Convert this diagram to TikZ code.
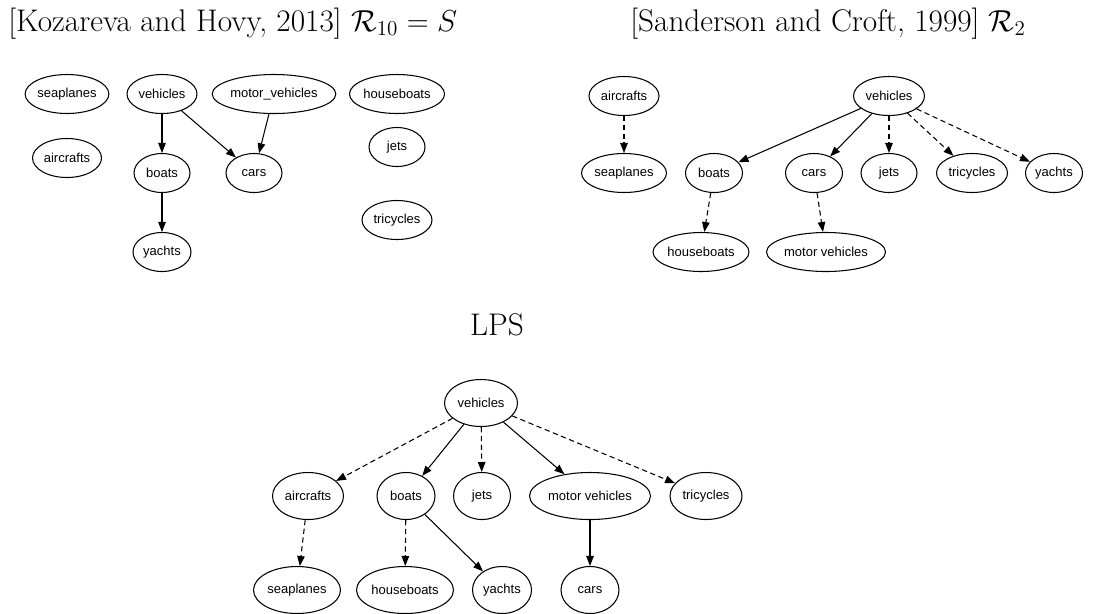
\documentclass[tikz,border=0pt]{standalone}
\usepackage{fontspec}
\newfontfamily\nodefont{Liberation Sans}
\usetikzlibrary{shapes.geometric,arrows.meta}
\newdimen\pxu \pxu=0.02cm
\tikzset{
  el/.style={ellipse,draw,line width=0.6pt,inner sep=0pt,minimum height=39\pxu,minimum width=#1\pxu,font=\nodefont\fontsize{7.4}{8.5}\selectfont},
  elb/.style={el=#1,minimum height=47\pxu},
  ttl/.style={anchor=base west,inner sep=0pt,font=\fontsize{17.8}{21}\selectfont},
  edge/.style={line width=0.6pt,-{Triangle[length=2mm,width=1.5mm]}},
  dedge/.style={edge,dash pattern=on 3pt off 2pt},
}
\begin{document}
\begin{tikzpicture}[x=0.02cm,y=-0.02cm]
\useasboundingbox (0,0) rectangle (1104,613);
% ---------- top left ----------
\node[ttl] (t1) at (8,31) {[Kozareva and Hovy, 2013] $\mathcal{R}_{10}=S$};
\node[el=83] (a1) at (67,94) {seaplanes};
\node[el=70] (a2) at (162,94) {vehicles};
\node[el=118] (a3) at (274,94) {motor\_vehicles};
\node[el=94] (a4) at (397,94) {houseboats};
\node[el=69] (a5) at (67,158) {aircrafts};
\node[el=56] (a6) at (397,147) {jets};
\node[el=56] (a7) at (162,173) {boats};
\node[el=56] (a8) at (254,173) {cars};
\node[el=70] (a9) at (397,220) {tricycles};
\node[el=58] (a10) at (162,252) {yachts};
\draw[edge] (a2) -- (a7);
\draw[edge] (a2) -- (a8);
\draw[edge] (a3) -- (a8);
\draw[edge] (a7) -- (a10);
% ---------- top right ----------
\node[ttl] (t2) at (630,31) {[Sanderson and Croft, 1999] $\mathcal{R}_{2}$};
\node[el=70] (b1) at (624,96) {aircrafts};
\node[el=71] (b2) at (889,96) {vehicles};
\node[el=85] (b3) at (624,173) {seaplanes};
\node[el=57] (b4) at (714,173) {boats};
\node[el=57] (b5) at (814,173) {cars};
\node[el=56] (b6) at (889,173) {jets};
\node[el=71] (b7) at (972,173) {tricycles};
\node[el=57] (b8) at (1054,173) {yachts};
\node[el=96] (b9) at (701,252) {houseboats};
\node[el=119] (b10) at (826,252) {motor vehicles};
\draw[dedge] (b1) -- (b3);
\draw[edge] (b2) -- (b4);
\draw[edge] (b2) -- (b5);
\draw[dedge] (b2) -- (b6);
\draw[dedge] (b2) -- (b7);
\draw[dedge] (b2) -- (b8);
\draw[dedge] (b4) -- (b9);
\draw[dedge] (b5) -- (b10);
% ---------- bottom ----------
\node[ttl,anchor=base] (t3) at (497,335) {LPS};
\node[elb=73] (c1) at (481,403) {vehicles};
\node[elb=71] (c2) at (308,496) {aircrafts};
\node[elb=58] (c3) at (406,496) {boats};
\node[elb=57] (c4) at (482,496) {jets};
\node[elb=121] (c5) at (590,496) {motor vehicles};
\node[elb=72] (c6) at (706,496) {tricycles};
\node[elb=87] (c7) at (297,590) {seaplanes};
\node[elb=97] (c8) at (405,590) {houseboats};
\node[elb=59] (c9) at (502,590) {yachts};
\node[elb=58] (c10) at (590,590) {cars};
\draw[dedge] (c1) -- (c2);
\draw[edge] (c1) -- (c3);
\draw[dedge] (c1) -- (c4);
\draw[edge] (c1) -- (c5);
\draw[dedge] (c1) -- (c6);
\draw[dedge] (c2) -- (c7);
\draw[dedge] (c3) -- (c8);
\draw[edge] (c3) -- (c9);
\draw[edge] (c5) -- (c10);
\end{tikzpicture}
\end{document}
